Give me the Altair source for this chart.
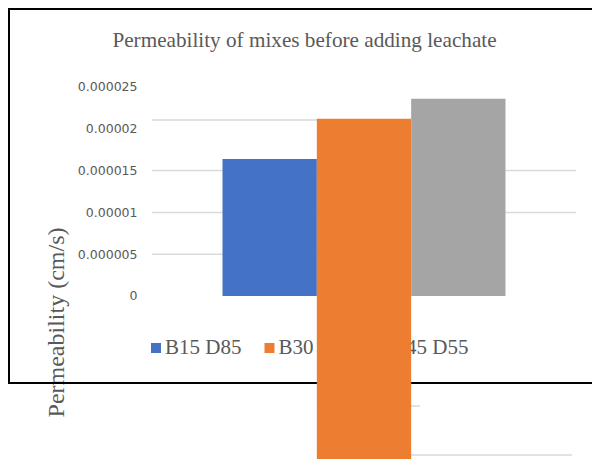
import altair as alt
import pandas as pd

# ---- data ----
group = "Before leachate"
series = ["B15 D85", "B30 D70", "B45 D55"]
values = [0.0000164, 0.0000212, 0.0000236]
bases = [0.0, -0.000025, 0.0]          # orange bar runs off the bottom of the picture
colors = ["#4472C4", "#ED7D31", "#A5A5A5"]

tick_values = [0, 0.000005, 0.00001, 0.000015, 0.00002, 0.000025]

# gridline fragments: value, start / end as fraction of the category band
grid_y = [0.000015, 0.00001, 0.000005, 0.00002105, -0.00001316, -0.00001902, -0.00002129]
grid_x0 = [0.0, 0.0, 0.0, 0.0, 0.389, 0.389, -0.005]
grid_x1 = [1.0, 1.0, 0.8325, 0.389, 0.632, 0.991, 1.0]

title_text = "Permeability of mixes before adding leachate"
y_title = "Permeability (cm/s)"

bars_df = pd.DataFrame({"group": [group] * len(series), "series": series,
                        "value": values, "base": bases})
grid_df = pd.DataFrame({"gy": grid_y, "gx0": grid_x0, "gx1": grid_x1})
leg_df = pd.DataFrame({"series": series})

W, H = 582, 375
grey_text = "#595959"
serif = "Liberation Serif"

yscale = alt.Scale(domain=[-0.000010646, 0.00003421], nice=False, zero=False)
yaxis = alt.Axis(
    values=tick_values, format=".6~f", grid=False, domain=False, ticks=False,
    labelPadding=0, offset=-127, labelFont="DejaVu Sans", labelFontSize=12.5,
    labelColor=grey_text, title=y_title, titleFont=serif, titleFontSize=24,
    titleFontWeight="normal", titleColor=grey_text, titleX=-81, titleY=312,
    titleAngle=270, titleAlign="center", titleBaseline="middle",
)
color_scale = alt.Scale(domain=series, range=colors)

frame = alt.Chart(pd.DataFrame({"f": [0]})).mark_rect(
    fillOpacity=0, stroke="black", strokeWidth=2
).encode(x=alt.value(-1), x2=alt.value(W + 30), y=alt.value(-1), y2=alt.value(H - 2))

grid = alt.Chart(grid_df).mark_rule(color="#d9d9d9", strokeWidth=1.5).encode(
    x=alt.X("gx0:Q", scale=alt.Scale(domain=[-0.33491, 1.03774], nice=False, zero=False), axis=None),
    x2="gx1:Q",
    y=alt.Y("gy:Q", scale=yscale, axis=yaxis),
)

leg_x = alt.X("series:N", sort=series, scale=alt.Scale(type="point", range=[146, 373], padding=0), axis=None)
leg_sq = alt.Chart(leg_df).mark_square(size=100, opacity=1).encode(
    x=leg_x, y=alt.value(338),
    color=alt.Color("series:N", scale=color_scale, legend=None),
)
leg_tx = alt.Chart(leg_df).mark_text(
    align="left", baseline="middle", dx=9, font=serif, fontSize=21, color=grey_text
).encode(x=leg_x, y=alt.value(338), text="series:N")
legend = alt.layer(leg_sq, leg_tx)

bars = alt.Chart(bars_df).mark_bar().encode(
    x=alt.X("group:N", scale=alt.Scale(paddingInner=0, paddingOuter=0.18632, align=0.8987), axis=None),
    xOffset=alt.XOffset("series:N", sort=series,
                        scale=alt.Scale(paddingInner=0, paddingOuter=0.7474)),
    y=alt.Y("value:Q", scale=yscale, axis=yaxis),
    y2="base:Q",
    color=alt.Color("series:N", scale=color_scale, legend=None),
)

chart = alt.layer(frame, grid, legend, bars).resolve_scale(x="independent").properties(
    width=W, height=H,
    autosize=alt.AutoSizeParams(type="none"),
    padding={"left": 2, "top": 2, "right": 0, "bottom": 74},
    title=alt.TitleParams(title_text, font=serif, fontSize=21.2, fontWeight="normal",
                          color=grey_text, anchor="middle", dx=3.5, offset=-43),
).configure_view(strokeWidth=0)

chart.save("out.html", embed_options={"renderer": "svg", "actions": False})
